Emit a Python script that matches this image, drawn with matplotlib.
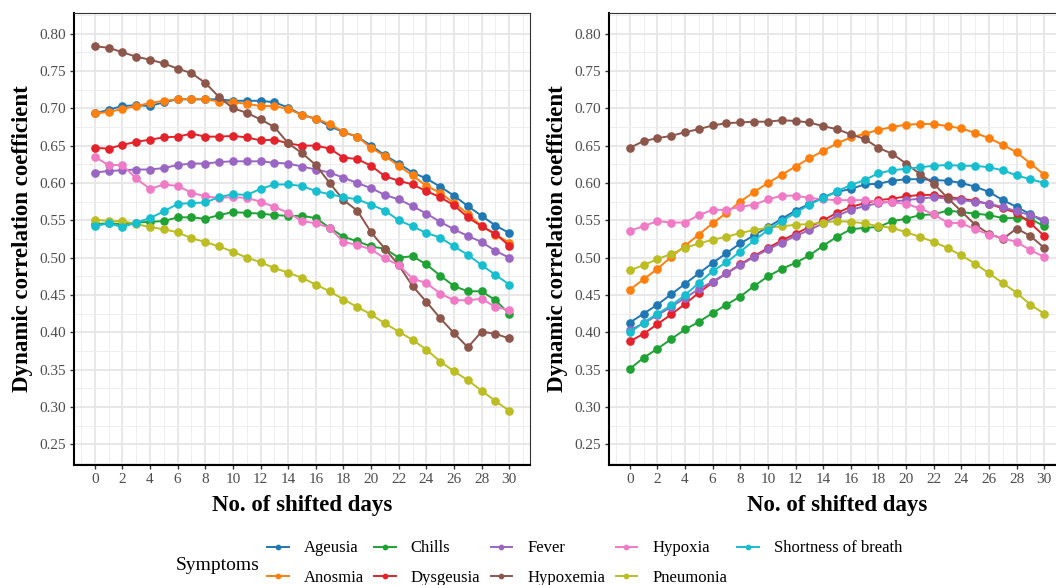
#Dynamic correlation coefficient vs. shifted days, two panels
import numpy as np
import matplotlib
matplotlib.use('Agg')
import matplotlib.pyplot as plt
from matplotlib.ticker import MultipleLocator

plt.rc('font', family='Liberation Serif', size=11)

#Shifted days
days = list(range(31))

#Symptom names
symptoms = ['Ageusia', 'Anosmia', 'Chills', 'Dysgeusia', 'Fever',
            'Hypoxemia', 'Hypoxia', 'Pneumonia', 'Shortness of breath']

#Left panel values
ageusia_L = [0.693, 0.698, 0.703, 0.704, 0.703, 0.708, 0.712, 0.712, 0.712, 0.712, 0.710,
             0.710, 0.710, 0.708, 0.701, 0.691, 0.686, 0.676, 0.668, 0.662, 0.650,
             0.637, 0.626, 0.614, 0.606, 0.595, 0.583, 0.569, 0.556, 0.543, 0.533]
anosmia_L = [0.693, 0.695, 0.699, 0.703, 0.707, 0.710, 0.712, 0.712, 0.712, 0.709, 0.708,
             0.706, 0.703, 0.703, 0.699, 0.691, 0.686, 0.679, 0.668, 0.662, 0.647,
             0.636, 0.623, 0.610, 0.596, 0.587, 0.573, 0.559, 0.542, 0.531, 0.520]
chills_L = [0.545, 0.546, 0.545, 0.547, 0.548, 0.549, 0.554, 0.554, 0.552, 0.557, 0.561,
            0.560, 0.559, 0.557, 0.556, 0.556, 0.553, 0.540, 0.528, 0.522, 0.515,
            0.512, 0.500, 0.502, 0.491, 0.476, 0.462, 0.455, 0.455, 0.443, 0.425]
dysgeusia_L = [0.647, 0.646, 0.651, 0.655, 0.658, 0.661, 0.662, 0.666, 0.662, 0.662, 0.663,
               0.661, 0.657, 0.658, 0.653, 0.650, 0.650, 0.646, 0.634, 0.632, 0.623,
               0.609, 0.603, 0.598, 0.589, 0.581, 0.570, 0.554, 0.542, 0.532, 0.516]
fever_L = [0.614, 0.616, 0.617, 0.618, 0.618, 0.620, 0.624, 0.626, 0.626, 0.628, 0.629,
           0.629, 0.629, 0.627, 0.626, 0.622, 0.618, 0.614, 0.607, 0.600, 0.593,
           0.584, 0.578, 0.569, 0.559, 0.548, 0.538, 0.529, 0.521, 0.509, 0.500]
hypoxemia_L = [0.783, 0.781, 0.775, 0.769, 0.765, 0.760, 0.753, 0.747, 0.734, 0.715, 0.700,
               0.694, 0.685, 0.675, 0.653, 0.640, 0.624, 0.600, 0.577, 0.563, 0.534,
               0.512, 0.490, 0.462, 0.441, 0.419, 0.399, 0.380, 0.401, 0.398, 0.392]
hypoxia_L = [0.635, 0.624, 0.624, 0.606, 0.592, 0.598, 0.596, 0.587, 0.582, 0.580, 0.581,
             0.580, 0.575, 0.568, 0.560, 0.549, 0.546, 0.540, 0.521, 0.517, 0.511,
             0.499, 0.490, 0.472, 0.466, 0.452, 0.443, 0.443, 0.445, 0.434, 0.430]
pneumonia_L = [0.551, 0.549, 0.549, 0.545, 0.541, 0.538, 0.534, 0.526, 0.521, 0.515, 0.508,
               0.500, 0.494, 0.486, 0.480, 0.473, 0.464, 0.455, 0.444, 0.434, 0.424,
               0.412, 0.401, 0.390, 0.377, 0.361, 0.348, 0.336, 0.322, 0.308, 0.295]
breath_L = [0.542, 0.546, 0.541, 0.547, 0.553, 0.562, 0.572, 0.573, 0.574, 0.581, 0.585,
            0.584, 0.592, 0.598, 0.598, 0.596, 0.589, 0.585, 0.581, 0.578, 0.571,
            0.563, 0.550, 0.542, 0.533, 0.527, 0.515, 0.504, 0.490, 0.477, 0.464]

#Right panel values
ageusia_R = [0.413, 0.425, 0.437, 0.451, 0.465, 0.479, 0.493, 0.506, 0.519, 0.530, 0.541,
             0.552, 0.563, 0.572, 0.581, 0.588, 0.592, 0.598, 0.599, 0.603, 0.605,
             0.605, 0.604, 0.603, 0.600, 0.595, 0.588, 0.577, 0.568, 0.558, 0.548]
anosmia_R = [0.457, 0.471, 0.485, 0.501, 0.516, 0.531, 0.546, 0.560, 0.575, 0.588, 0.600,
             0.611, 0.622, 0.633, 0.643, 0.653, 0.661, 0.666, 0.671, 0.675, 0.678,
             0.679, 0.679, 0.676, 0.673, 0.667, 0.660, 0.651, 0.641, 0.626, 0.611]
chills_R = [0.351, 0.366, 0.378, 0.391, 0.404, 0.414, 0.426, 0.437, 0.448, 0.462, 0.475,
            0.485, 0.493, 0.503, 0.516, 0.528, 0.538, 0.540, 0.541, 0.549, 0.552,
            0.557, 0.558, 0.563, 0.561, 0.559, 0.557, 0.553, 0.553, 0.552, 0.542]
dysgeusia_R = [0.388, 0.398, 0.411, 0.424, 0.438, 0.453, 0.467, 0.479, 0.491, 0.502, 0.513,
               0.523, 0.532, 0.541, 0.550, 0.560, 0.568, 0.573, 0.577, 0.579, 0.582,
               0.584, 0.584, 0.581, 0.579, 0.576, 0.572, 0.566, 0.560, 0.546, 0.529]
fever_R = [0.403, 0.412, 0.423, 0.434, 0.446, 0.458, 0.468, 0.479, 0.490, 0.501, 0.511,
           0.520, 0.529, 0.537, 0.546, 0.556, 0.564, 0.569, 0.573, 0.575, 0.577,
           0.579, 0.581, 0.579, 0.577, 0.575, 0.572, 0.568, 0.562, 0.557, 0.551]
hypoxemia_R = [0.647, 0.656, 0.660, 0.663, 0.668, 0.672, 0.677, 0.680, 0.681, 0.682, 0.682,
               0.684, 0.683, 0.681, 0.676, 0.672, 0.665, 0.659, 0.647, 0.639, 0.626,
               0.612, 0.599, 0.580, 0.562, 0.544, 0.532, 0.525, 0.539, 0.529, 0.513]
hypoxia_R = [0.536, 0.542, 0.549, 0.547, 0.547, 0.557, 0.564, 0.564, 0.568, 0.571, 0.578,
             0.583, 0.583, 0.580, 0.578, 0.577, 0.577, 0.577, 0.575, 0.574, 0.572,
             0.566, 0.558, 0.547, 0.546, 0.538, 0.531, 0.526, 0.521, 0.510, 0.501]
pneumonia_R = [0.483, 0.490, 0.498, 0.505, 0.513, 0.519, 0.524, 0.528, 0.533, 0.537, 0.540,
               0.542, 0.544, 0.545, 0.547, 0.549, 0.548, 0.546, 0.542, 0.540, 0.534,
               0.528, 0.521, 0.513, 0.503, 0.492, 0.479, 0.466, 0.453, 0.437, 0.425]
breath_R = [0.400, 0.413, 0.425, 0.436, 0.450, 0.466, 0.482, 0.494, 0.508, 0.523, 0.537,
            0.549, 0.560, 0.571, 0.580, 0.589, 0.597, 0.604, 0.613, 0.617, 0.619,
            0.621, 0.623, 0.624, 0.623, 0.623, 0.621, 0.617, 0.610, 0.605, 0.600]

left_series = [ageusia_L, anosmia_L, chills_L, dysgeusia_L, fever_L,
               hypoxemia_L, hypoxia_L, pneumonia_L, breath_L]
right_series = [ageusia_R, anosmia_R, chills_R, dysgeusia_R, fever_R,
                hypoxemia_R, hypoxia_R, pneumonia_R, breath_R]

#Slightly brighter tab10 colours
colors = ['#1f77b4', '#ff7f0e', '#1fa234', '#e4222b', '#9a66c3',
          '#8c564b', '#f07ac6', '#bcbd22', '#17becf']

fig = plt.figure(figsize=(10.56, 5.85), dpi=100)
ax0 = fig.add_axes([74/1056, 1-465/585, 456/1056, 452/585])
ax1 = fig.add_axes([609/1056, 1-465/585, 456/1056, 452/585])

for ax, series in [(ax0, left_series), (ax1, right_series)]:
    for name, vals, c in zip(symptoms, series, colors):
        ax.plot(days, vals, '-o', color=c, lw=1.4, markersize=5.2, label=name)
    ax.set_xlim(-1.5, 31.5)
    ax.set_ylim(0.2225, 0.8275)
    ax.xaxis.set_major_locator(MultipleLocator(2))
    ax.xaxis.set_minor_locator(MultipleLocator(1))
    ax.yaxis.set_major_locator(MultipleLocator(0.05))
    ax.yaxis.set_minor_locator(MultipleLocator(0.025))
    ax.set_yticks(np.arange(0.25, 0.801, 0.05))
    ax.set_yticklabels(['%.2f' % v for v in np.arange(0.25, 0.801, 0.05)])
    ax.grid(which='major', color='#e6e6e6', lw=1.3)
    ax.grid(which='minor', color='#eeeeee', lw=0.7)
    ax.set_axisbelow(True)
    ax.tick_params(which='major', length=3, width=1, color='#333333',
                   labelcolor='#4d4d4d', labelsize=11, pad=3)
    ax.tick_params(which='minor', length=0)
    for s in ['top', 'right']:
        ax.spines[s].set_color('#333333')
        ax.spines[s].set_linewidth(0.8)
    for s in ['left', 'bottom']:
        ax.spines[s].set_color('black')
        ax.spines[s].set_linewidth(1.5)
    ax.set_xlabel('No. of shifted days', fontsize=16.5, fontweight='bold', labelpad=6)
    ax.set_ylabel('Dynamic correlation coefficient', fontsize=16.5, fontweight='bold', labelpad=4)

#Legend below the panels
handles, labels = ax0.get_legend_handles_labels()
fig.legend(handles, labels, ncol=5, loc='center left', bbox_to_anchor=(267/1056, 1-563/585),
           frameon=False, fontsize=12, borderpad=0, borderaxespad=0, handlelength=1.3,
           handletextpad=0.9, columnspacing=0.62, labelspacing=0.78, markerscale=0.6)
fig.text(176/1056, 1-565/585, 'Symptoms', fontsize=14, va='center', ha='left')

plt.savefig('out.png', dpi=100)
